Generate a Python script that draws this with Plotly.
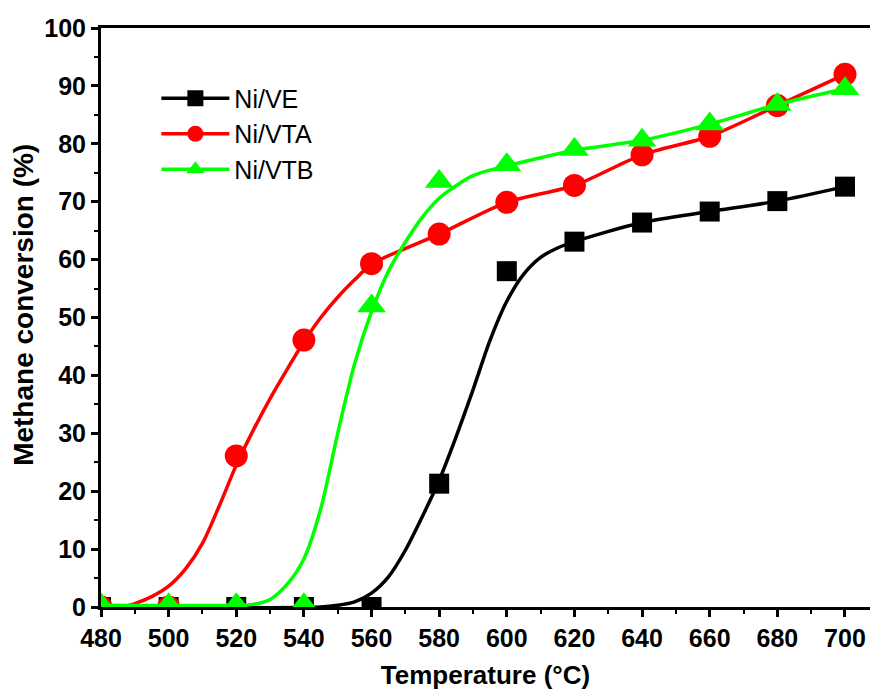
import plotly.graph_objects as go

# Measured points (temperature in °C, methane conversion in %)
temps = [480, 500, 520, 540, 560, 580, 600, 620, 640, 660, 680, 700]
ve_conv = [0, 0, 0, 0, 0, 21.3, 58.0, 63.1, 66.4, 68.3, 70.1, 72.6]
vta_conv = [0, 0, 26.1, 46.1, 59.3, 64.4, 69.9, 72.8, 78.1, 81.3, 86.6, 92.0]
vtb_conv = [0.4, 0.4, 0.4, 0.4, 52.0, 73.5, 76.4, 79.0, 80.6, 83.4, 86.8, 89.5]

# Fitted curves
ve_fit_t = [480, 545, 550, 555, 560, 565, 570, 575, 580, 585, 590, 595, 600, 605, 610, 615, 620, 640, 660, 680, 700]
ve_fit_y = [0, 0, 0.3, 0.9, 2.4, 5.2, 9.8, 15.6, 21.9, 29.4, 37.5, 46.0, 52.8, 57.5, 60.4, 62.0, 63.1, 66.4, 68.3, 70.1, 72.6]

vta_fit_t = [483, 487, 490, 495, 500, 505, 510, 515, 520, 525, 530, 535, 540, 545, 550, 555, 560, 580, 600, 620, 640, 660, 680, 700]
vta_fit_y = [0, 0.1, 0.6, 1.8, 3.6, 6.6, 11.0, 17.5, 24.5, 30.5, 36.0, 41.0, 45.8, 50.0, 53.5, 56.5, 59.2, 64.4, 69.9, 72.8, 78.1, 81.3, 86.6, 92.0]

vtb_fit_t = [480, 520, 525, 530, 535, 540, 545, 550, 555, 560, 565, 570, 575, 580, 590, 600, 610, 620, 640, 660, 680, 700]
vtb_fit_y = [0.3, 0.3, 0.45, 1.3, 3.9, 8.3, 17.0, 30.0, 42.0, 51.0, 58.0, 63.0, 67.3, 70.6, 74.5, 76.2, 77.6, 78.9, 80.6, 83.4, 86.8, 89.5]

names = ["Ni/VE", "Ni/VTA", "Ni/VTB"]
colors = ["#000000", "#FF0000", "#00FF00"]
symbols = ["square", "circle", "triangle-up"]
sizes = [20, 23, 25]

series = [
    (ve_conv, ve_fit_t, ve_fit_y),
    (vta_conv, vta_fit_t, vta_fit_y),
    (vtb_conv, vtb_fit_t, vtb_fit_y),
]

fig = go.Figure()
for i, (pts, ft, fy) in enumerate(series):
    fig.add_trace(go.Scatter(
        x=ft, y=fy, mode="lines",
        line=dict(color=colors[i], width=3.5, shape="spline", smoothing=0.8),
        showlegend=False, hoverinfo="skip"))
    fig.add_trace(go.Scatter(
        x=temps, y=pts, mode="markers",
        marker=dict(symbol=symbols[i], size=sizes[i], color=colors[i], line=dict(width=0)),
        showlegend=False))

for i in range(3):
    fig.add_trace(go.Scatter(
        x=[None], y=[None], mode="lines+markers", name=names[i],
        line=dict(color=colors[i], width=3.5),
        marker=dict(symbol=symbols[i], size=sizes[i], color=colors[i])))

font_family = "Liberation Sans, Arial, sans-serif"

fig.update_layout(
    width=870, height=690,
    margin=dict(l=101, r=0, t=28, b=83),
    plot_bgcolor="white", paper_bgcolor="white",
    font=dict(family=font_family, color="black"),
    legend=dict(x=0.072, y=0.918, xanchor="left", yanchor="top",
                font=dict(size=25, family=font_family),
                bgcolor="rgba(0,0,0,0)", itemwidth=68, tracegroupgap=0),
    xaxis=dict(
        range=[480, 707.4], tickmode="array", tickvals=list(range(480, 701, 20)),
        ticks="outside", ticklen=7, tickwidth=3, tickcolor="black",
        showline=True, linewidth=3, linecolor="black", mirror=True,
        showgrid=False, zeroline=False,
        minor=dict(dtick=10, ticks="outside", ticklen=4, tickwidth=2, tickcolor="black"),
        tickfont=dict(size=25, family=font_family, weight="bold"),
        title=dict(text="Temperature (°C)", font=dict(size=26, family=font_family, weight="bold"), standoff=18),
        automargin=False),
    yaxis=dict(
        range=[0, 100], dtick=10,
        ticks="outside", ticklen=7, tickwidth=3, tickcolor="black",
        showline=True, linewidth=3, linecolor="black", mirror=False,
        showgrid=False, zeroline=False,
        minor=dict(dtick=5, ticks="outside", ticklen=4, tickwidth=2, tickcolor="black"),
        tickfont=dict(size=25, family=font_family, weight="bold"),
        automargin=False),
    annotations=[dict(
        text="Methane conversion (%)", textangle=-90,
        xref="paper", yref="paper", x=-0.1, y=0.522,
        xanchor="center", yanchor="middle", showarrow=False,
        font=dict(size=28, family=font_family, weight="bold"))],
)

fig.write_html("out.html")
